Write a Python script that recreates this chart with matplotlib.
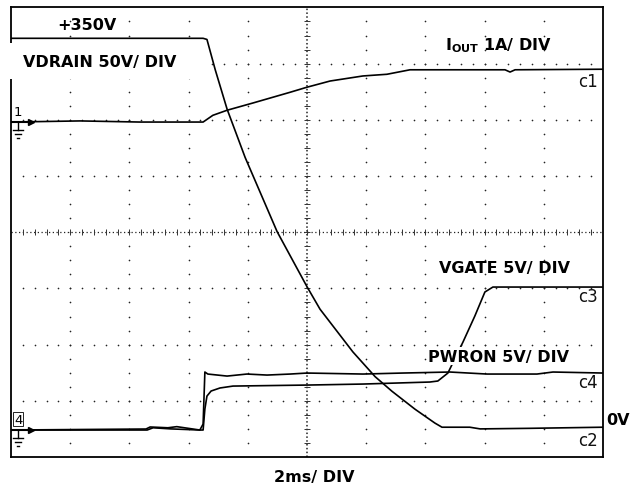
"""Scope capture: VDRAIN / IOUT / VGATE / PWRON turn-on, 2 ms/div."""
import matplotlib
matplotlib.use("Agg")
import matplotlib.pyplot as plt
from matplotlib.patches import Rectangle
import numpy as np

# time in ms (2 ms/div, 10 div)
t_vdrain = [0, 6.49, 6.62, 6.9, 7.30, 7.91, 8.99, 10.0, 10.44, 11.55, 12.30,
            12.87, 13.65, 14.32, 14.56, 15.5, 15.85, 17.5, 20]
vdrain = [345, 345, 344, 317, 282, 239, 173, 124, 104, 66, 44,
          31, 15, 2.7, -1, -1, -2.5, -2, -1]

t_iout = [0, 2.33, 4.36, 6.49, 6.82, 7.30, 8.18, 9.43, 10.0, 10.78, 11.89,
          12.70, 13.48, 16.69, 16.86, 17.03, 20]
iout = [0, 0.02, 0, 0, 0.12, 0.21, 0.34, 0.53, 0.62, 0.73, 0.82,
        0.85, 0.93, 0.93, 0.89, 0.93, 0.94]

t_vgate = [0, 4.6, 4.8, 5.4, 6.38, 6.49, 6.55, 6.62, 6.76, 7.06, 7.5, 10.0,
           11.89, 14.15, 14.42, 14.76, 15.27, 15.67, 16.01, 16.28, 17.87, 20]
vgate = [0, 0, 0.2, 0.1, 0, 0, 1.87, 3.02, 3.47, 3.74, 3.91, 4.0,
         4.09, 4.27, 4.36, 5.07, 7.83, 10.14, 12.28, 12.72, 12.72, 12.72]

t_pwron = [0, 4.56, 4.70, 5.3, 5.6, 6.38, 6.49, 6.55, 6.65, 7.3, 7.97, 8.65,
           9.43, 10.0, 11.89, 13.24, 14.83, 16.08, 17.77, 18.31, 20]
pwron = [0, 0.09, 0.27, 0.2, 0.3, 0, 0.53, 5.16, 4.98, 4.80, 4.98, 4.89,
         4.98, 5.07, 4.98, 5.07, 5.16, 4.98, 4.98, 5.16, 5.07]

# channel scale (units/div) and ground offset (div from bottom)
SCALE = {"vdrain": 50, "iout": 1, "vgate": 5, "pwron": 5}
OFFSET = {"vdrain": 0.55, "iout": 5.96, "vgate": 0.48, "pwron": 0.48}

BOLD = dict(family="DejaVu Sans", fontweight="bold", fontsize=11.5)

fig = plt.figure(figsize=(6.41, 4.85), dpi=100)
ax = fig.add_axes([11/641, 27/485, 592/641, 449.6/485])
ax.set_xlim(0, 20)
ax.set_ylim(0, 8.0)
ax.set_xticks([])
ax.set_yticks([])
for s in ax.spines.values():
    s.set_linewidth(1.3)

# graticule dots
hx = np.arange(0.4, 19.9, 0.4)
for gy in [1, 2, 3, 5, 6, 7]:
    ax.plot(hx, np.full_like(hx, gy), ls="none", marker="o", ms=1.2,
            color="#222", mew=0)
vy = np.arange(0.25, 8.0, 0.25)
for gx in [2, 4, 6, 8, 12, 14, 16, 18]:
    ax.plot(np.full_like(vy, gx), vy, ls="none", marker="o", ms=1.2,
            color="#222", mew=0)
# center cross
ax.axhline(4, color="#222", lw=0.9, ls=(0, (1, 2)))
ax.axvline(10, color="#222", lw=1.1, ls=(0, (1, 1.5)))
ax.plot(hx, np.full_like(hx, 4), ls="none", marker="|", ms=5, mew=0.7,
        color="#333")
ax.plot(np.full_like(vy, 10), vy, ls="none", marker="_", ms=5, mew=0.7,
        color="#333")


def trace(t, v, key):
    y = OFFSET[key] + np.asarray(v) / SCALE[key]
    ax.plot(t, y, color="black", lw=1.2, zorder=3, solid_joinstyle="round")


trace(t_vdrain, vdrain, "vdrain")
trace(t_iout, iout, "iout")
trace(t_vgate, vgate, "vgate")
trace(t_pwron, pwron, "pwron")


def ground_marker(y, label, boxed=False):
    ax.plot([0.05, 0.55], [y, y], color="black", lw=1.5, zorder=4)
    ax.plot([0.68], [y], marker=">", ms=4.5, color="black", zorder=4)
    ax.plot([0.24, 0.24], [y, y - 0.15], color="black", lw=1.0, zorder=4)
    for dy, w in [(0.15, 0.16), (0.22, 0.1), (0.29, 0.04)]:
        ax.plot([0.24 - w, 0.24 + w], [y - dy, y - dy], color="black",
                lw=1.0, zorder=4)
    ax.text(0.24, y + 0.08, label, fontsize=9.5, ha="center", va="bottom",
            family="Liberation Sans Narrow",
            bbox=dict(facecolor="white", edgecolor="black", lw=0.6, pad=0.5)
            if boxed else None)


ground_marker(OFFSET["iout"], "1")
ground_marker(OFFSET["pwron"], "4", boxed=True)

# labels
ax.text(2.57, 7.69, "+350V", ha="center", va="center", **BOLD)
# white patch behind the VDRAIN label, covering the left frame edge
ax.add_patch(Rectangle((-0.5, 6.72), 7.0, 0.64, facecolor="white",
                       edgecolor="none", zorder=4.5, clip_on=False))
ax.text(0.405, 7.03, "VDRAIN 50V/ DIV", ha="left", va="center", zorder=5,
        clip_on=False, **BOLD)
ax.text(14.66, 7.26, r"I$_{\mathbf{OUT}}$ 1A/ DIV", ha="left", va="baseline",
        **BOLD)
ax.text(14.46, 3.29, "VGATE 5V/ DIV", ha="left", va="baseline", **BOLD)
ax.text(14.09, 1.71, "PWRON 5V/ DIV", ha="left", va="baseline", zorder=5,
        bbox=dict(facecolor="white", edgecolor="none", pad=1), **BOLD)
ax.text(20.12, 0.587, "0V", ha="left", va="baseline", clip_on=False, **BOLD)
ax.text(10.24, -0.427, "2ms/ DIV", ha="center", va="baseline", clip_on=False,
        **BOLD)

CH = dict(family="Liberation Sans Narrow", fontsize=12, ha="left",
          va="center", color="#111")
ax.text(19.16, 6.69, "c1", **CH)
ax.text(19.16, 2.86, "c3", **CH)
ax.text(19.16, 1.33, "c4", **CH)
ax.text(19.16, 0.30, "c2", **CH)

fig.savefig("out.png", dpi=100)
